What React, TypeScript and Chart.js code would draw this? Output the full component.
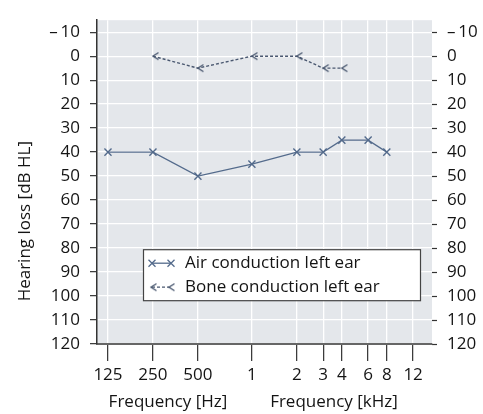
import React, { useEffect, useRef } from 'react';
import { Chart, registerables } from 'chart.js';

Chart.register(...registerables);

const FREQ_TICKS = [125, 250, 500, 1000, 2000, 3000, 4000, 6000, 8000, 12000];
const FREQ_LABELS = ['125', '250', '500', '1', '2', '3', '4', '6', '8', '12'];
const Y_TICKS = [-10, 0, 10, 20, 30, 40, 50, 60, 70, 80, 90, 100, 110, 120];

const AIR_FREQ = [125, 250, 500, 1000, 2000, 3000, 4000, 6000, 8000];
const AIR_DB = [40, 40, 50, 45, 40, 40, 35, 35, 40];
const BONE_FREQ = [250, 500, 1000, 2000, 3000, 4000];
const BONE_DB = [0, 5, 0, 0, 5, 5];

const SERIES_LABELS = ['Air conduction left ear', 'Bone conduction left ear'];

const AIR_COLOR = '#546b8c';
const BONE_COLOR = '#4a5870';
const TEXT_COLOR = '#141414';
const FONT = "'Open Sans', 'Noto Sans', sans-serif";
const FONT_SIZE = 17;

// audiogram frequency axis: octaves, with a small gap between Hz and kHz parts
const pos = (f: number) => Math.log2(f / 125) + (f >= 1000 ? 0.2 : 0);

function makeBoneMarker(): HTMLCanvasElement {
  const c = document.createElement('canvas');
  c.width = 14;
  c.height = 10;
  const g = c.getContext('2d')!;
  g.strokeStyle = BONE_COLOR;
  g.lineWidth = 1.4;
  g.beginPath();
  g.moveTo(12.5, 1.5);
  g.lineTo(7, 5);
  g.lineTo(12.5, 8.5);
  g.stroke();
  return c;
}

export default function App() {
  const ref = useRef<HTMLCanvasElement | null>(null);

  useEffect(() => {
    if (!ref.current) return;
    const boneMarker = makeBoneMarker();

    const bgPlugin = {
      id: 'bg',
      beforeDraw(chart: any) {
        const { ctx, chartArea: a } = chart;
        ctx.save();
        ctx.fillStyle = '#e4e7eb';
        ctx.fillRect(a.left, a.top, a.right - a.left, a.bottom - a.top);
        ctx.restore();
      },
    };

    const overlayPlugin = {
      id: 'overlay',
      afterDraw(chart: any) {
        const { ctx, chartArea: a } = chart;
        ctx.save();
        ctx.fillStyle = TEXT_COLOR;
        ctx.font = `${FONT_SIZE}px ${FONT}`;
        ctx.textBaseline = 'middle';
        ctx.textAlign = 'center';
        // x titles
        ctx.fillText('Frequency [Hz]', a.left + 71, a.bottom + 58);
        ctx.fillText('Frequency [kHz]', a.left + 237, a.bottom + 58);
        // y title
        ctx.save();
        ctx.translate(25, a.top + 201);
        ctx.rotate(-Math.PI / 2);
        ctx.fillText('Hearing loss [dB HL]', 0, 0);
        ctx.restore();

        // legend
        const lx = a.left + 46;
        const ly = a.top + 229;
        const lw = 277;
        const lh = 51;
        ctx.fillStyle = '#ffffff';
        ctx.fillRect(lx, ly, lw, lh);
        ctx.strokeStyle = '#444';
        ctx.lineWidth = 1.2;
        ctx.strokeRect(lx + 0.5, ly + 0.5, lw, lh);

        const r1 = ly + 14;
        const r2 = ly + 38;
        // air symbol
        ctx.strokeStyle = AIR_COLOR;
        ctx.lineWidth = 1.3;
        const cross = (cx: number, cy: number) => {
          ctx.beginPath();
          ctx.moveTo(cx - 3.5, cy - 3.5);
          ctx.lineTo(cx + 3.5, cy + 3.5);
          ctx.moveTo(cx + 3.5, cy - 3.5);
          ctx.lineTo(cx - 3.5, cy + 3.5);
          ctx.stroke();
        };
        cross(lx + 9, r1);
        cross(lx + 28, r1);
        ctx.beginPath();
        ctx.moveTo(lx + 9, r1);
        ctx.lineTo(lx + 28, r1);
        ctx.stroke();
        // bone symbol
        ctx.drawImage(boneMarker, lx + 8 - 7, r2 - 5);
        ctx.drawImage(boneMarker, lx + 26 - 7, r2 - 5);
        ctx.strokeStyle = BONE_COLOR;
        ctx.setLineDash([3, 2]);
        ctx.beginPath();
        ctx.moveTo(lx + 9, r2);
        ctx.lineTo(lx + 26, r2);
        ctx.stroke();
        ctx.setLineDash([]);

        ctx.fillStyle = TEXT_COLOR;
        ctx.textAlign = 'left';
        ctx.fillText(SERIES_LABELS[0], lx + 42, r1);
        ctx.fillText(SERIES_LABELS[1], lx + 42, r2);
        ctx.restore();
      },
    };

    const yLabel = (v: any) => {
      const n = Number(v);
      return n < 0 ? '\u2013\u2009' + Math.abs(n) : String(n);
    };

    const tickFont = { family: FONT, size: FONT_SIZE };

    const chart = new Chart(ref.current, {
      type: 'line',
      data: {
        datasets: [
          {
            label: SERIES_LABELS[0],
            data: AIR_FREQ.map((f, i) => ({ x: pos(f), y: AIR_DB[i] })),
            borderColor: AIR_COLOR,
            backgroundColor: AIR_COLOR,
            borderWidth: 1.3,
            pointStyle: 'crossRot',
            pointRadius: 5,
            pointBorderWidth: 1.4,
            pointBorderColor: AIR_COLOR,
            tension: 0,
            fill: false,
          },
          {
            label: SERIES_LABELS[1],
            data: BONE_FREQ.map((f, i) => ({ x: pos(f), y: BONE_DB[i] })),
            borderColor: BONE_COLOR,
            backgroundColor: BONE_COLOR,
            borderWidth: 1.4,
            borderDash: [3, 2],
            pointStyle: boneMarker as any,
            pointRadius: 5,
            tension: 0,
            fill: false,
          },
        ],
      },
      options: {
        responsive: false,
        animation: false,
        devicePixelRatio: 1,
        layout: { padding: { top: 10, left: 0, right: 0, bottom: 0 } },
        plugins: {
          legend: { display: false },
          tooltip: { enabled: false },
        },
        scales: {
          x: {
            type: 'linear',
            position: 'bottom',
            min: pos(125) - 0.244,
            max: pos(12000) + 0.42,
            afterBuildTicks: (s: any) => {
              s.ticks = FREQ_TICKS.map((f) => ({ value: pos(f) }));
            },
            afterFit: (s: any) => {
              s.height = 70;
            },
            ticks: {
              autoSkip: false,
              maxRotation: 0,
              padding: 4,
              color: TEXT_COLOR,
              font: tickFont,
              callback: (_v: any, i: number) => FREQ_LABELS[i],
            },
            grid: {
              color: '#ffffff',
              lineWidth: 1.3,
              tickColor: '#333',
              tickLength: 17,
              tickWidth: 1.2,
            },
            border: { display: true, color: '#666', width: 2 },
          },
          y: {
            type: 'linear',
            position: 'left',
            reverse: true,
            min: -15,
            max: 120,
            afterBuildTicks: (s: any) => {
              s.ticks = Y_TICKS.map((v) => ({ value: v }));
            },
            afterFit: (s: any) => {
              s.width = 97;
            },
            ticks: {
              padding: 10,
              color: TEXT_COLOR,
              font: tickFont,
              callback: yLabel,
            },
            grid: {
              color: '#ffffff',
              lineWidth: 1.3,
              tickColor: '#333',
              tickLength: 7,
              tickWidth: 1.2,
            },
            border: { display: true, color: '#333', width: 1.5 },
          },
          y2: {
            type: 'linear',
            position: 'right',
            reverse: true,
            min: -15,
            max: 120,
            afterBuildTicks: (s: any) => {
              s.ticks = Y_TICKS.map((v) => ({ value: v }));
            },
            afterFit: (s: any) => {
              s.width = 51;
            },
            ticks: {
              padding: 10,
              color: TEXT_COLOR,
              font: tickFont,
              callback: yLabel,
            },
            grid: {
              drawOnChartArea: false,
              tickColor: '#333',
              tickLength: 5,
              tickWidth: 1.2,
            },
            border: { display: false },
          },
        },
      },
      plugins: [bgPlugin, overlayPlugin],
    } as any);

    return () => chart.destroy();
  }, []);

  return (
    <div style={{ position: 'fixed', left: 0, top: 0, width: 483, height: 414, background: '#fff' }}>
      <canvas ref={ref} width={483} height={414} style={{ display: 'block', width: 483, height: 414 }} />
    </div>
  );
}
